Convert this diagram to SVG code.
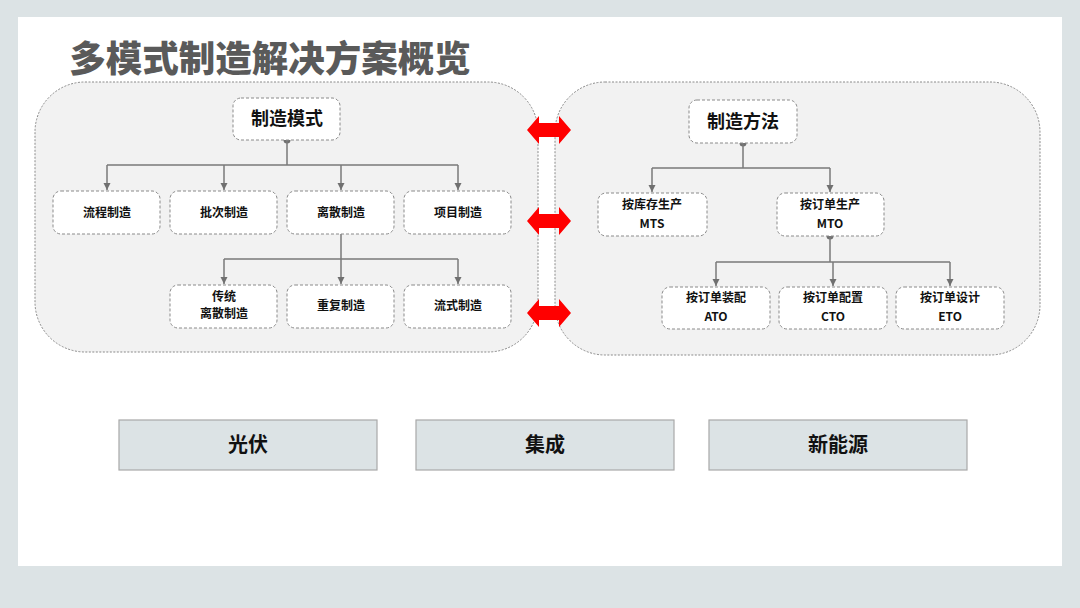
<svg xmlns="http://www.w3.org/2000/svg" width="1080" height="608" viewBox="0 0 1080 608">
<defs>
<marker id="ah" viewBox="0 0 10 10" refX="10" refY="5" markerWidth="5" markerHeight="5" orient="auto" markerUnits="strokeWidth">
<path d="M0,0 L10,5 L0,10 z" fill="#707070"/>
</marker>
<style>
text{font-family:"Noto Sans CJK SC","Noto Sans",sans-serif;font-weight:bold;text-anchor:middle;fill:#111}
.cont{fill:#f2f2f2;stroke:#8a8a8a;stroke-width:1;stroke-dasharray:2 1.5}
.box{fill:#fff;stroke:#8a8a8a;stroke-width:1;stroke-dasharray:3 2}
.t12{font-size:12px}
.t18{font-size:18px}
.bot{fill:#dce3e5;stroke:#a8a8a8;stroke-width:1.2}
.t20{font-size:20px}
.ln{fill:none;stroke:#7a7a7a;stroke-width:1.5}
.ar{fill:none;stroke:#7a7a7a;stroke-width:1.5;marker-end:url(#ah)}
.red{fill:#ff0000}
</style>
</defs>
<rect x="0" y="0" width="1080" height="608" fill="#dce3e5"/>
<rect x="18" y="17" width="1044" height="549" fill="#ffffff"/>
<text x="270" y="72" style="font-size:36.5px;fill:#5a5a5a;text-anchor:middle;font-weight:900">多模式制造解决方案概览</text>

<g id="container-left"><rect class="cont" x="35" y="82" width="503" height="270" rx="50"/></g>
<g id="container-right"><rect class="cont" x="555" y="82" width="485" height="273" rx="50"/></g>

<g id="connectors">
<circle cx="287" cy="140" r="3.5" fill="#707070"/>
<path class="ln" d="M287,140 V165 M107,165 H458"/>
<path class="ar" d="M107,165 V190"/>
<path class="ar" d="M224,165 V190"/>
<path class="ar" d="M341,165 V190"/>
<path class="ar" d="M458,165 V190"/>
<path class="ln" d="M341,234 V259 M224,259 H458"/>
<path class="ar" d="M224,259 V284"/>
<path class="ar" d="M341,259 V284"/>
<path class="ar" d="M458,259 V284"/>
<circle cx="743" cy="143" r="3.5" fill="#707070"/>
<path class="ln" d="M743,143 V168 M652,168 H830"/>
<path class="ar" d="M652,168 V192"/>
<path class="ar" d="M830,168 V192"/>
<circle cx="830" cy="236" r="3.5" fill="#707070"/>
<path class="ln" d="M830,236 V262 M716,262 H950"/>
<path class="ar" d="M716,262 V286"/>
<path class="ar" d="M833,262 V286"/>
<path class="ar" d="M950,262 V286"/>
</g>

<g id="red-arrows">
<path class="red" d="M527,130 L539,116 V123 H559 V116 L571,130 L559,144 V137 H539 V144 Z"/>
<path class="red" d="M527,221 L539,207 V214 H559 V207 L571,221 L559,235 V228 H539 V235 Z"/>
<path class="red" d="M527,313 L539,299 V306 H559 V299 L571,313 L559,327 V320 H539 V327 Z"/>
</g>

<g id="n-zhizaomoshi"><rect class="box" x="233" y="98" width="107" height="42" rx="8"/><text class="t18" x="287" y="125">制造模式</text></g>
<g id="n-liucheng"><rect class="box" x="53" y="191" width="107" height="43" rx="8"/><text class="t12" x="107" y="217">流程制造</text></g>
<g id="n-pici"><rect class="box" x="170" y="191" width="107" height="43" rx="8"/><text class="t12" x="224" y="217">批次制造</text></g>
<g id="n-lisan"><rect class="box" x="287" y="191" width="107" height="43" rx="8"/><text class="t12" x="341" y="217">离散制造</text></g>
<g id="n-xiangmu"><rect class="box" x="404" y="191" width="107" height="43" rx="8"/><text class="t12" x="458" y="217">项目制造</text></g>
<g id="n-chuantong"><rect class="box" x="170" y="285" width="107" height="43" rx="8"/><text class="t12" x="224" y="301">传统</text><text class="t12" x="224" y="318">离散制造</text></g>
<g id="n-chongfu"><rect class="box" x="287" y="285" width="107" height="43" rx="8"/><text class="t12" x="341" y="310">重复制造</text></g>
<g id="n-liushi"><rect class="box" x="404" y="285" width="107" height="43" rx="8"/><text class="t12" x="458" y="310">流式制造</text></g>

<g id="n-zhizaofangfa"><rect class="box" x="689" y="100" width="108" height="43" rx="8"/><text class="t18" x="743" y="128">制造方法</text></g>
<g id="n-mts"><rect class="box" x="598" y="193" width="109" height="43" rx="8"/><text class="t12" x="652" y="209">按库存生产</text><text class="t12" x="652" y="228">MTS</text></g>
<g id="n-mto"><rect class="box" x="777" y="193" width="107" height="43" rx="8"/><text class="t12" x="830" y="209">按订单生产</text><text class="t12" x="830" y="228">MTO</text></g>
<g id="n-ato"><rect class="box" x="662" y="287" width="108" height="42" rx="8"/><text class="t12" x="716" y="302">按订单装配</text><text class="t12" x="716" y="321">ATO</text></g>
<g id="n-cto"><rect class="box" x="779" y="287" width="108" height="42" rx="8"/><text class="t12" x="833" y="302">按订单配置</text><text class="t12" x="833" y="321">CTO</text></g>
<g id="n-eto"><rect class="box" x="896" y="287" width="108" height="42" rx="8"/><text class="t12" x="950" y="302">按订单设计</text><text class="t12" x="950" y="321">ETO</text></g>

<g id="n-guangfu"><rect class="bot" x="119" y="420" width="258" height="50"/><text class="t20" x="248" y="452">光伏</text></g>
<g id="n-jicheng"><rect class="bot" x="416" y="420" width="258" height="50"/><text class="t20" x="545" y="452">集成</text></g>
<g id="n-xinnengyuan"><rect class="bot" x="709" y="420" width="258" height="50"/><text class="t20" x="838" y="452">新能源</text></g>
</svg>
